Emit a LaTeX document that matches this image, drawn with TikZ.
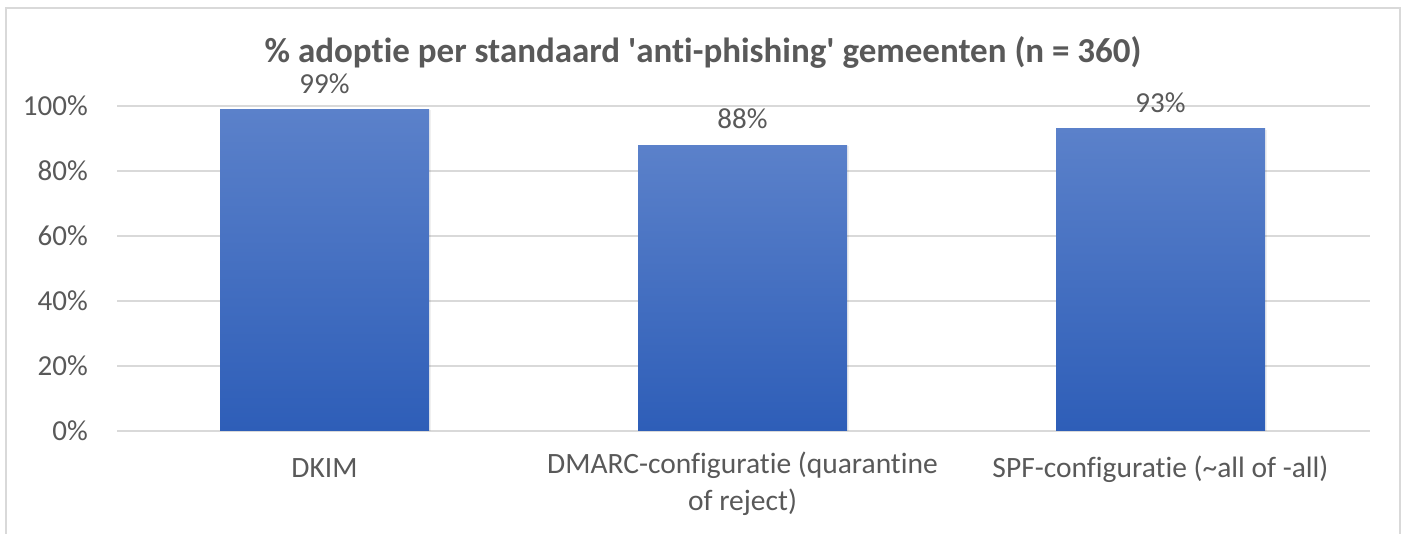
\documentclass[tikz,border=0pt]{standalone}
\usepackage{fontspec}
\setmainfont{Carlito}[Ligatures={NoCommon}]
\definecolor{txt}{HTML}{595959}
\definecolor{grid}{HTML}{D9D9D9}
\definecolor{bartop}{HTML}{5B81CA}
\definecolor{barbot}{HTML}{2E5EB8}
\begin{document}
\begin{tikzpicture}[x=1pt,y=-1pt,
  gridline/.style={draw=grid,line width=1.6pt},
  axlabel/.style={anchor=east,text=txt,font=\fontsize{29}{31}\selectfont,inner sep=0pt},
  catlabel/.style={anchor=center,text=txt,font=\fontsize{29.5}{37}\selectfont,align=center,inner sep=0pt},
  vallabel/.style={anchor=center,text=txt,font=\fontsize{29}{31}\selectfont,inner sep=0pt},
  barbox/.style={top color=bartop,bottom color=barbot,draw=none},
  shadowbox/.style={fill=black,opacity=0.06,draw=none}]
\useasboundingbox (0,0) rectangle (1412,533);
\fill[white] (0,0) rectangle (1412,533);
% frame
\draw[draw=grid,line width=2pt] (6,540) -- (6,8) -- (1400,8) -- (1400,540);
% title
\node[text=txt,font=\fontsize{35}{37}\selectfont\bfseries,inner sep=0pt] (title) at (703,52) {\% adoptie per standaard \textquotesingle anti-phishing\textquotesingle{} gemeenten (n = 360)};
% grid
\foreach \v/\n in {0/g0,20/g20,40/g40,60/g60,80/g80,100/g100}{
  \coordinate (\n a) at (117,{431-3.25*\v});
  \coordinate (\n b) at (1370,{431-3.25*\v});
  \draw[gridline] (\n a) -- (\n b);
  \node[axlabel] (l\n) at (88,{431-3.25*\v}) {\v\%};
}
% bars
\foreach \c/\val/\n in {324.5/99/dkim,742.5/88/dmarc,1160.5/93/spf}{
  \fill[shadowbox] ({\c-105},{431-3.25*\val+1}) rectangle ({\c+106},431);
  \fill[barbox] ({\c-104.5},{431-3.25*\val}) rectangle ({\c+104.5},430);
  \node[vallabel] (v\n) at (\c,{431-3.25*\val-26}) {\val\%};
}
% category labels
\node[catlabel] (cdkim) at (324.5,468) {DKIM};
\node[catlabel,anchor=north] (cdmarc) at (742.5,452) {DMARC-configuratie (quarantine\\of reject)};
\node[catlabel] (cspf) at (1160.5,469) {SPF-configuratie (\textasciitilde all of -all)};
\end{tikzpicture}
\end{document}
